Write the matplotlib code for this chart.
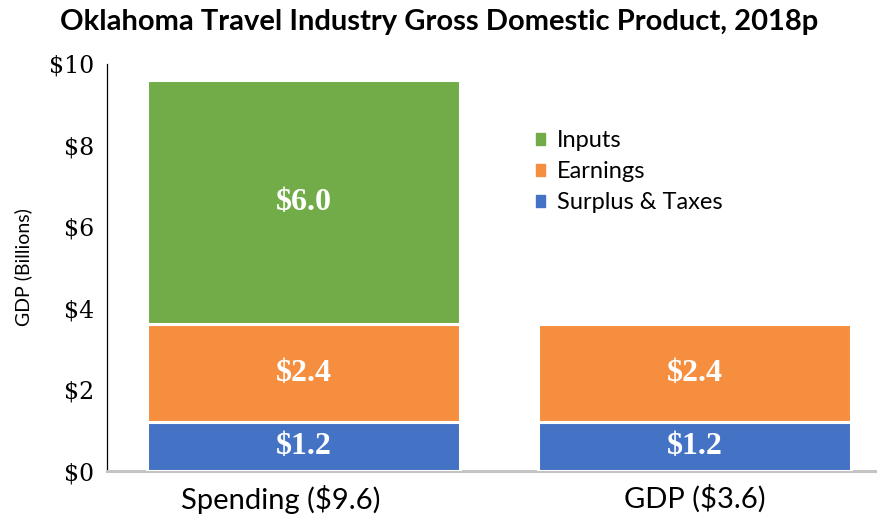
import matplotlib
matplotlib.use("Agg")
import matplotlib.pyplot as plt
from matplotlib.patches import Patch
from matplotlib.transforms import ScaledTranslation

categories = ["Spending ($9.6)", "GDP ($3.6)"]
series_names = ["Surplus & Taxes", "Earnings", "Inputs"]
surplus = [1.2, 1.2]
earnings = [2.4, 2.4]
inputs = [6.0, 0.0]
yticks = [0, 2, 4, 6, 8, 10]
ytick_labels = ["$0", "$2", "$4", "$6", "$8", "$10"]

colors = {"Surplus & Taxes": "#4472C4", "Earnings": "#F68E40", "Inputs": "#72AC48"}

fig = plt.figure(figsize=(8.78, 5.19), dpi=100)
ax = fig.add_axes([107/878, 48/519, 771/878, 407/519])

x = list(range(len(categories)))
bottom = [0.0] * len(categories)
for name, vals in zip(series_names, [surplus, earnings, inputs]):
    for i in x:
        if vals[i] <= 0:
            continue
        ax.bar(i, vals[i], bottom=bottom[i], width=0.8, color=colors[name],
               edgecolor="white", linewidth=2.2, zorder=3)
        ax.text(i, bottom[i] + vals[i] / 2, f"${vals[i]:.1f}", ha="center", va="center",
                color="white", fontsize=23, fontweight="bold", family="Liberation Serif", zorder=4)
        bottom[i] += vals[i]

ax.set_xlim(-0.5026, 1.469)
ax.set_ylim(0, 10)
ax.set_yticks(yticks)
ax.set_yticklabels(ytick_labels, family="DejaVu Serif", fontsize=17)
ax.set_xticks(x)
ax.set_xticklabels(categories, family="Lato", fontsize=21)
ax.tick_params(axis="both", length=0)
ax.tick_params(axis="y", pad=9)
ax.tick_params(axis="x", pad=10)

# first category label sits slightly left of its bar in the reference
lbl = ax.get_xticklabels()[0]
lbl.set_transform(lbl.get_transform() + ScaledTranslation(-0.23, 0, fig.dpi_scale_trans))

for s in ["top", "right"]:
    ax.spines[s].set_visible(False)
ax.spines["left"].set_color("black")
ax.spines["left"].set_linewidth(0.9)
ax.spines["bottom"].set_color("#C4C4C4")
ax.spines["bottom"].set_linewidth(2.2)
ax.axhline(0, color="white", linewidth=0.7, zorder=2.5)

ax.set_ylabel("GDP (Billions)", family="Lato", fontsize=14, labelpad=12)

handles = [Patch(color=colors[n]) for n in ["Inputs", "Earnings", "Surplus & Taxes"]]
leg = ax.legend(handles, ["Inputs", "Earnings", "Surplus & Taxes"], loc="upper left",
                bbox_to_anchor=(0.544, 0.86), borderaxespad=0, frameon=False,
                prop={"family": "Lato", "size": 17},
                handlelength=0.4, handleheight=0.4, handletextpad=0.5, labelspacing=0.42)

fig.text(0.5, 1 - 22/519, "Oklahoma Travel Industry Gross Domestic Product, 2018p", ha="center", va="center",
         family="Lato", fontweight="bold", fontsize=21)

fig.savefig("out.png", dpi=100)
